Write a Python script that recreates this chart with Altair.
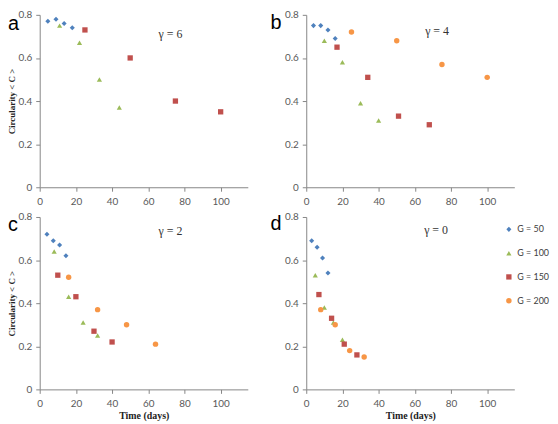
import altair as alt
import pandas as pd

series = ["G = 50", "G = 100", "G = 150", "G = 200"]
colors = ["#4F81BD", "#9BBB59", "#C0504D", "#F79646"]
shapes = ["diamond", "triangle-up", "square", "circle"]
marker_sizes = [26, 30, 30, 32]

panel_keys = ["a", "b", "c", "d"]
gamma_labels = ["γ = 6", "γ = 4", "γ = 2", "γ = 0"]
x_ticks = [0, 20, 40, 60, 80, 100]
y_ticks = [0, 0.2, 0.4, 0.6, 0.8]

# panel a (gamma = 6)
a_g50_t = [4.5, 9, 13.5, 18]
a_g50_c = [0.77, 0.78, 0.76, 0.74]
a_g100_t = [11, 22, 33, 44]
a_g100_c = [0.75, 0.67, 0.50, 0.37]
a_g150_t = [25, 50, 75, 100]
a_g150_c = [0.73, 0.60, 0.40, 0.35]

# panel b (gamma = 4)
b_g50_t = [4, 8, 12, 16]
b_g50_c = [0.75, 0.75, 0.73, 0.69]
b_g100_t = [10, 20, 30, 40]
b_g100_c = [0.68, 0.58, 0.39, 0.31]
b_g150_t = [17, 34, 51, 68]
b_g150_c = [0.65, 0.51, 0.33, 0.29]
b_g200_t = [25, 50, 75, 100]
b_g200_c = [0.72, 0.68, 0.57, 0.51]

# panel c (gamma = 2)
c_g50_t = [4, 7.5, 11, 14.5]
c_g50_c = [0.72, 0.69, 0.67, 0.62]
c_g100_t = [8, 16, 24, 32]
c_g100_c = [0.64, 0.43, 0.31, 0.25]
c_g150_t = [10, 20, 30, 40]
c_g150_c = [0.53, 0.43, 0.27, 0.22]
c_g200_t = [16, 32, 48, 64]
c_g200_c = [0.52, 0.37, 0.30, 0.21]

# panel d (gamma = 0)
d_g50_t = [3, 6, 9, 12]
d_g50_c = [0.69, 0.66, 0.61, 0.54]
d_g100_t = [5, 10, 15, 20]
d_g100_c = [0.53, 0.38, 0.31, 0.23]
d_g150_t = [7, 14, 21, 28]
d_g150_c = [0.44, 0.33, 0.21, 0.16]
d_g200_t = [8, 16, 24, 32]
d_g200_c = [0.37, 0.30, 0.18, 0.15]

rows = []
def add(panel, g, ts, cs):
    for t, c in zip(ts, cs):
        rows.append({"panel": panel, "G": g, "t": t, "c": c})

add("a", "G = 50", a_g50_t, a_g50_c)
add("a", "G = 100", a_g100_t, a_g100_c)
add("a", "G = 150", a_g150_t, a_g150_c)
add("b", "G = 50", b_g50_t, b_g50_c)
add("b", "G = 100", b_g100_t, b_g100_c)
add("b", "G = 150", b_g150_t, b_g150_c)
add("b", "G = 200", b_g200_t, b_g200_c)
add("c", "G = 50", c_g50_t, c_g50_c)
add("c", "G = 100", c_g100_t, c_g100_c)
add("c", "G = 150", c_g150_t, c_g150_c)
add("c", "G = 200", c_g200_t, c_g200_c)
add("d", "G = 50", d_g50_t, d_g50_c)
add("d", "G = 100", d_g100_t, d_g100_c)
add("d", "G = 150", d_g150_t, d_g150_c)
add("d", "G = 200", d_g200_t, d_g200_c)
df = pd.DataFrame(rows)

W = 210
H = 174
GAP = 30

legend_cfg = dict(
    orient="none", legendX=469, legendY=H + GAP + 8, title=None,
    symbolSize=22, labelFontSize=9, labelFont="Lato", labelColor="#404040",
    rowPadding=14, padding=0, labelOffset=4, symbolStrokeWidth=0,
)

def make_panel(i, show_x_title, show_y_title, letter_x, letter_y, gam_x, gam_y, legend):
    key = panel_keys[i]
    d = df[df["panel"] == key]
    x_axis = alt.Axis(values=x_ticks, labelFlush=False, titleY=26, titleBaseline="middle")
    y_axis = alt.Axis(values=y_ticks, format=".1~f", titleX=-28, titleY=H / 2,
                      titleBaseline="middle", titleAngle=270)
    pts = alt.Chart(d).mark_point(filled=True, opacity=1).encode(
        x=alt.X("t:Q", scale=alt.Scale(domain=[0, 115], nice=False),
                axis=x_axis, title="Time (days)" if show_x_title else None),
        y=alt.Y("c:Q", scale=alt.Scale(domain=[0, 0.8], nice=False),
                axis=y_axis, title="Circularity < C >" if show_y_title else None),
        color=alt.Color("G:N", scale=alt.Scale(domain=series, range=colors),
                        legend=alt.Legend(**legend_cfg) if legend else None),
        shape=alt.Shape("G:N", scale=alt.Scale(domain=series, range=shapes),
                        legend=alt.Legend(**legend_cfg) if legend else None),
        size=alt.Size("G:N", scale=alt.Scale(domain=series, range=marker_sizes), legend=None),
    )
    letter = alt.Chart(pd.DataFrame({"s": [key]})).mark_text(
        align="left", baseline="top", font="Liberation Sans", fontSize=20, color="#000000"
    ).encode(text="s:N", x=alt.value(letter_x), y=alt.value(letter_y))
    gam = alt.Chart(pd.DataFrame({"s": [gamma_labels[i]]})).mark_text(
        align="center", baseline="middle", font="Liberation Serif", fontSize=12, color="#333333"
    ).encode(text="s:N", x=alt.value(gam_x), y=alt.value(gam_y))
    return alt.layer(pts, letter, gam).properties(width=W, height=H)

pa = make_panel(0, False, True, -32, -1, 132, 19, True)
pb = make_panel(1, False, False, -36, -2, 132, 16, True)
pc = make_panel(2, True, True, -32, -2, 132, 14, True)
pd_ = make_panel(3, True, False, -36, -3, 131, 13, True)

chart = alt.concat(
    pa, pb, pc, pd_, columns=2, spacing={"row": GAP, "column": 59}, bounds="flush",
).resolve_scale(color="shared", shape="shared", size="shared").properties(padding=0).configure_view(
    stroke=None
).configure_axis(
    domainColor="#868686", tickColor="#868686", labelColor="#595959",
    labelFont="Lato", labelFontSize=10, tickSize=4, grid=False,
    titleFont="Liberation Serif", titleFontWeight="bold", titleColor="#222222", titleFontSize=9,
).configure_axisX(labelPadding=5, titleFontSize=10).configure_axisY(labelPadding=4)

chart.save("out.html", embed_options={"renderer": "svg", "actions": False})
